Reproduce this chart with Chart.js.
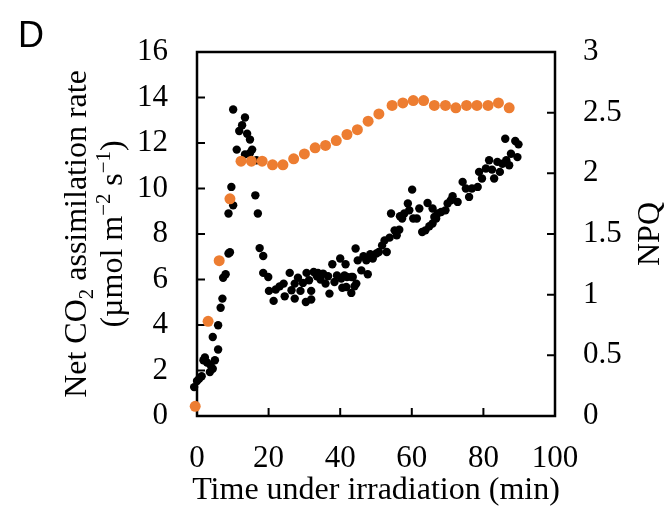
<!DOCTYPE html>
<html>
<head>
<meta charset="utf-8">
<script src="https://cdn.jsdelivr.net/npm/chart.js@4"></script>
<style>
  body { margin: 0; background: #fff; }
</style>
</head>
<body>
<canvas id="chart" width="668" height="515"></canvas>
<script>
// Net CO2 assimilation (black dots), time in min
const co2Time = [
  -0.8, 0, 0.6, 1.3, 1.8, 2.2, 2.8, 3.6, 3.8, 4.4, 4.4, 5.0, 5.9, 5.9, 6.6, 7.1, 7.3, 8.0, 8.8, 9.2,
  8.8, 9.6, 10.1, 10.1, 11.1, 11.8, 12.6, 13.4, 13.4, 14.0, 14.8, 14.8, 15.4, 16.6, 16.3, 17.0, 17.5, 18.5, 18.5, 19.9,
  20.1, 21.4, 22.0, 23.1, 24.2, 24.5, 25.9, 26.4, 27.3, 27.3, 28.2, 28.9, 29.6, 30.4, 30.6, 31.3, 31.9, 31.9, 32.6, 33.5,
  33.8, 34.5, 35.2, 35.9, 36.6, 37.0, 37.8, 38.4, 39.1, 40.0, 40.3, 40.6, 41.2, 41.5, 41.7, 41.9, 43.1, 43.1, 43.5, 44.0,
  44.3, 44.5, 44.9, 45.9, 46.5, 47.3, 47.7, 48.4, 49.1, 50.1, 50.8, 51.7, 52.4, 53.0, 53.8, 54.2, 55.2, 55.8, 56.5, 56.7,
  57.3, 57.9, 58.9, 59.3, 60.1, 60.4, 61.4, 62.1, 62.9, 63.8, 64.4, 64.9, 65.8, 65.8, 66.3, 66.8, 67.2, 68.2, 69.4, 70.0,
  70.9, 71.4, 72.8, 74.2, 75.1, 76.0, 76.8, 78.4, 78.8, 79.6, 80.7, 81.6, 82.4, 83.0, 83.9, 84.6, 85.3, 86.1, 86.4, 87.2,
  87.7, 88.9, 89.5, 89.8
];
const co2Rate = [
  1.27, 1.54, 1.64, 1.75, 2.45, 2.57, 2.35, 1.93, 2.23, 2.08, 3.47, 2.45, 2.92, 3.99, 4.76, 5.16, 6.08, 6.23, 7.14, 7.2,
  8.9, 10.07, 9.26, 13.47, 11.71, 12.53, 12.78, 13.12, 11.5, 12.41, 12.15, 11.56, 11.71, 11.24, 9.7, 8.9, 7.38, 7.03, 6.29, 6.11,
  5.5, 5.06, 5.56, 5.70, 5.82, 5.26, 6.29, 5.53, 5.82, 5.16, 6.08, 5.5, 5.85, 5.01, 6.29, 5.97, 5.5, 5.12, 6.33, 6.14,
  6.29, 6.0, 6.26, 5.82, 6.14, 5.38, 6.67, 5.89, 6.18, 6.92, 6.04, 5.64, 6.18, 6.67, 5.67, 6.11, 6.11, 5.41, 6.11, 5.70,
  7.36, 5.82, 6.84, 6.40, 7.02, 6.84, 6.23, 7.11, 6.92, 7.14, 7.21, 7.50, 7.72, 7.21, 7.84, 8.90, 8.16, 7.94, 8.19, 8.78,
  8.68, 8.90, 9.34, 9.04, 9.95, 8.68, 8.68, 9.12, 8.09, 8.16, 9.36, 8.34, 8.46, 9.12, 8.75, 8.68, 8.90, 8.97, 9.04, 9.34,
  9.48, 9.66, 9.41, 10.29, 10.0, 9.63, 10.0, 10.07, 10.73, 10.44, 10.88, 11.24, 10.83, 10.44, 11.17, 10.73, 11.09, 12.19, 11.24, 11.02,
  11.53, 12.09, 11.38, 11.94
];

// NPQ (orange dots)
const npqTime = [
  -0.5, 3.1, 6.2, 9.2, 12.3, 15.2, 18.2, 21.1, 24.0, 27.0, 30.0, 33.0, 35.9, 38.9, 41.9,
  44.8, 47.8, 50.8, 54.5, 57.5, 60.4, 63.3, 66.3, 69.4, 72.3, 75.3, 78.2, 81.3, 84.2, 87.2
];
const npqValue = [
  0.08, 0.78, 1.28, 1.79, 2.10, 2.10, 2.10, 2.07, 2.07, 2.12, 2.16, 2.21, 2.23, 2.27, 2.32,
  2.36, 2.43, 2.49, 2.56, 2.58, 2.60, 2.60, 2.56, 2.56, 2.54, 2.56, 2.56, 2.56, 2.58, 2.54
];

const serif = "'Liberation Serif', 'Times New Roman', serif";

// draws a line of text made of pieces, some sub/superscripted, centred at 0
function drawRich(ctx, parts, size) {
  let total = 0;
  parts.forEach(p => {
    ctx.font = (p.s ? size * 0.65 : size) + 'px ' + serif;
    p.w = ctx.measureText(p.t).width;
    total += p.w;
  });
  let x = -total / 2;
  parts.forEach(p => {
    ctx.font = (p.s ? size * 0.65 : size) + 'px ' + serif;
    ctx.fillText(p.t, x, p.s === 'sub' ? size * 0.22 : p.s === 'sup' ? -size * 0.36 : 0);
    x += p.w;
  });
}

const framePlugin = {
  id: 'frame',
  beforeDatasetsDraw(chart) {
    const { ctx, chartArea: a, scales } = chart;
    ctx.save();
    ctx.strokeStyle = '#000';
    ctx.lineWidth = 2.5;
    ctx.strokeRect(a.left, a.top, a.right - a.left, a.bottom - a.top);
    ctx.lineWidth = 2;
    ctx.beginPath();
    scales.y.ticks.forEach(t => {
      const py = scales.y.getPixelForValue(t.value);
      ctx.moveTo(a.left, py); ctx.lineTo(a.left + 8, py);
    });
    scales.y2.ticks.forEach(t => {
      const py = scales.y2.getPixelForValue(t.value);
      ctx.moveTo(a.right - 8, py); ctx.lineTo(a.right, py);
    });
    scales.x.ticks.forEach(t => {
      const px = scales.x.getPixelForValue(t.value);
      ctx.moveTo(px, a.bottom); ctx.lineTo(px, a.bottom - 8);
    });
    ctx.stroke();
    ctx.restore();
  },
  afterDraw(chart) {
    const { ctx, chartArea: a } = chart;
    const cy = (a.top + a.bottom) / 2;
    ctx.save();
    ctx.fillStyle = '#000';
    ctx.textBaseline = 'alphabetic';
    ctx.textAlign = 'left';

    // panel letter
    ctx.font = "36px 'Liberation Sans', Arial, sans-serif";
    ctx.fillText('D', 18, 47);

    // x title
    ctx.save();
    ctx.translate((a.left + a.right) / 2, 499);
    drawRich(ctx, [{ t: 'Time under irradiation (min)' }], 32);
    ctx.restore();

    // left title, two lines
    ctx.save();
    ctx.translate(86, cy);
    ctx.rotate(-Math.PI / 2);
    drawRich(ctx, [{ t: 'Net CO' }, { t: '2', s: 'sub' }, { t: ' assimilation rate' }], 32);
    ctx.restore();
    ctx.save();
    ctx.translate(122, cy);
    ctx.rotate(-Math.PI / 2);
    drawRich(ctx, [{ t: '(\u00b5mol m' }, { t: '\u22122', s: 'sup' }, { t: ' s' }, { t: '\u22121', s: 'sup' }, { t: ')' }], 32);
    ctx.restore();

    // right title
    ctx.save();
    ctx.translate(659, cy);
    ctx.rotate(-Math.PI / 2);
    drawRich(ctx, [{ t: 'NPQ' }], 32);
    ctx.restore();

    ctx.restore();
  }
};

const tickFont = { family: serif, size: 31 };

new Chart(document.getElementById('chart'), {
  type: 'scatter',
  data: {
    datasets: [
      {
        label: 'NPQ',
        data: npqTime.map((t, i) => ({ x: t, y: npqValue[i] })),
        yAxisID: 'y2',
        backgroundColor: '#ED7D31',
        borderWidth: 0,
        pointRadius: 5.5,
        clip: false
      },
      {
        label: 'Net CO2 assimilation rate',
        data: co2Time.map((t, i) => ({ x: t, y: co2Rate[i] })),
        yAxisID: 'y',
        backgroundColor: '#000',
        borderWidth: 0,
        pointRadius: 4.2,
        clip: false
      }
    ]
  },
  options: {
    responsive: false,
    animation: false,
    layout: { padding: { top: 52 } },
    plugins: { legend: { display: false }, tooltip: { enabled: false } },
    scales: {
      x: {
        type: 'linear', min: 0, max: 100,
        border: { display: false },
        grid: { display: false, drawTicks: false },
        ticks: { stepSize: 20, color: '#000', font: tickFont, padding: 24, maxRotation: 0 },
        afterFit: s => { s.height = 99; }
      },
      y: {
        position: 'left', min: 0, max: 16,
        border: { display: false },
        grid: { display: false, drawTicks: false },
        ticks: { stepSize: 2, color: '#000', font: tickFont, padding: 29 },
        afterFit: s => { s.width = 197; }
      },
      y2: {
        position: 'right', min: 0, max: 3,
        border: { display: false },
        grid: { display: false, drawTicks: false },
        ticks: { stepSize: 0.5, color: '#000', font: tickFont, padding: 28, callback: v => String(v) },
        afterFit: s => { s.width = 113; }
      }
    }
  },
  plugins: [framePlugin]
});
</script>
</body>
</html>
